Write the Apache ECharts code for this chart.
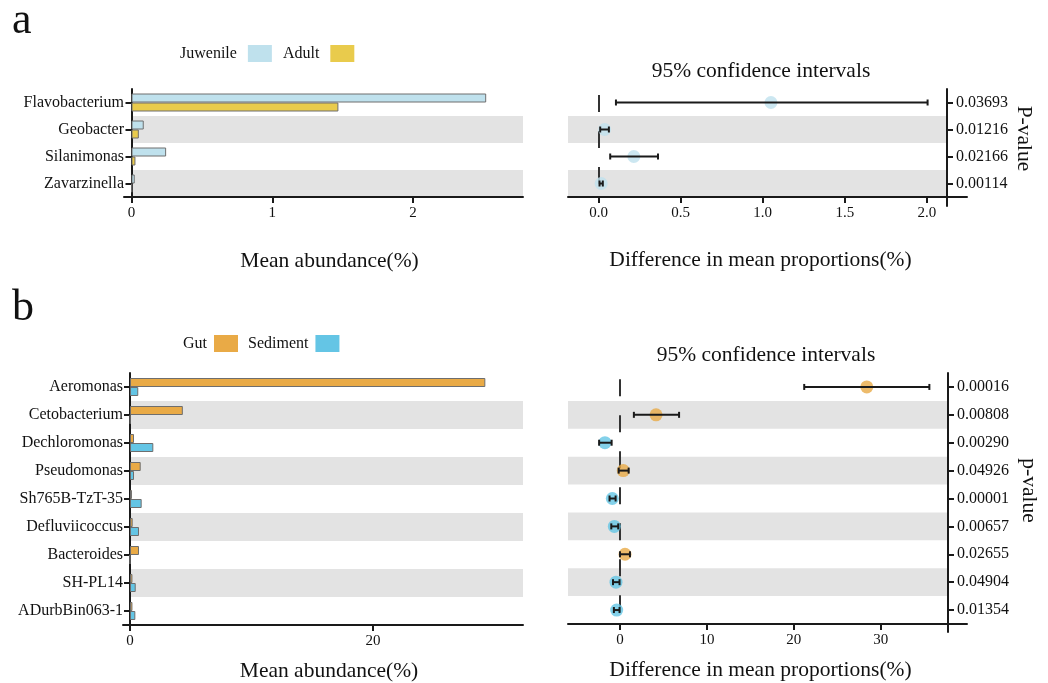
<!DOCTYPE html>
<html><head><meta charset="utf-8">
<script src="https://cdn.jsdelivr.net/npm/echarts@6/dist/echarts.min.js"></script>
<style>html,body{margin:0;padding:0;background:#fff}#c{width:1048px;height:683px}</style>
</head><body><div id="c"></div>
<script>
// ---------- Panel a ----------
const genusA = ['Flavobacterium', 'Geobacter', 'Silanimonas', 'Zavarzinella'];
const juwenile = [2.52, 0.087, 0.246, 0.023];
const adult = [1.47, 0.052, 0.028, 0.004];
const diffA = [1.05, 0.037, 0.215, 0.016];
const ciLowA = [0.106, 0.010, 0.071, 0.006];
const ciHighA = [2.004, 0.063, 0.362, 0.026];
const pValuesA = ['0.03693', '0.01216', '0.02166', '0.00114'];
const ticksAbundA = [0, 1, 2];
const ticksDiffA = [0, 0.5, 1, 1.5, 2];

// ---------- Panel b ----------
const genusB = ['Aeromonas', 'Cetobacterium', 'Dechloromonas', 'Pseudomonas', 'Sh765B-TzT-35',
  'Defluviicoccus', 'Bacteroides', 'SH-PL14', 'ADurbBin063-1'];
const gut = [29.25, 4.35, 0.33, 0.88, 0.16, 0.22, 0.74, 0.20, 0.20];
const sediment = [0.68, 0.03, 1.92, 0.33, 0.96, 0.74, 0, 0.47, 0.44];
const diffB = [28.4, 4.15, -1.73, 0.38, -0.88, -0.65, 0.58, -0.46, -0.38];
const ciLowB = [21.2, 1.6, -2.4, -0.15, -1.2, -1.0, 0.0, -0.8, -0.7];
const ciHighB = [35.6, 6.8, -0.96, 1.0, -0.5, -0.2, 1.15, -0.05, -0.05];
const pValuesB = ['0.00016', '0.00808', '0.00290', '0.04926', '0.00001', '0.00657', '0.02655', '0.04904', '0.01354'];
const ticksAbundB = [0, 20];
const ticksDiffB = [0, 10, 20, 30];

const FONT = 'Liberation Serif';
const INK = '#111';
const AX = '#1a1a1a';
const BAND = '#e3e3e3';
const C = { juv: '#bfe1ed', adult: '#e9cb4c', gut: '#e9aa46', sed: '#64c5e5' };

const chart = echarts.init(document.getElementById('c'));

function axisLineStyle() { return { show: true, lineStyle: { color: AX, width: 2 } }; }

function xAbund(grid, min, max, ticks) {
  return {
    type: 'value', gridIndex: grid, min, max, position: 'bottom',
    axisLine: axisLineStyle(),
    axisTick: { show: true, length: 6, lineStyle: { color: AX, width: 2 }, customValues: ticks },
    axisLabel: { customValues: ticks, fontFamily: FONT, fontSize: 15, color: INK, margin: 9 },
    splitLine: { show: false },
    name: 'Mean abundance(%)', nameLocation: 'middle', nameGap: grid === 0 ? 53 : 35,
    nameTextStyle: { fontFamily: FONT, fontSize: 21.5, color: INK, padding: [0, 0, 0, 12] }
  };
}
function xDiff(grid, min, max, ticks, fmt) {
  return {
    type: 'value', gridIndex: grid, min, max, position: 'bottom', offset: grid === 1 ? -9 : -8,
    axisLine: Object.assign(axisLineStyle(), { onZero: false }),
    axisTick: { show: true, length: 6, lineStyle: { color: AX, width: 2 }, customValues: ticks },
    axisLabel: { customValues: ticks, fontFamily: FONT, fontSize: 15, color: INK, margin: 9, formatter: fmt },
    splitLine: { show: false },
    name: 'Difference in mean proportions(%)', nameLocation: 'middle', nameGap: grid === 1 ? 52 : 35,
    nameTextStyle: { fontFamily: FONT, fontSize: 21.5, color: INK, padding: [0, 14, 0, 0] }
  };
}
function yCat(grid, cats) {
  return {
    type: 'category', gridIndex: grid, data: cats, inverse: true,
    axisLine: Object.assign(axisLineStyle(), { onZero: true }),
    axisTick: { show: true, alignWithLabel: true, length: 6, lineStyle: { color: AX, width: 2 } },
    axisLabel: { fontFamily: FONT, fontSize: 16, color: INK, margin: 0 },
    splitLine: { show: false }, splitArea: { show: false }
  };
}
function yP(grid, max, offset, pv, name, gap, shiftUp) {
  const idx = pv.map((_, i) => i);
  return {
    type: 'value', gridIndex: grid, inverse: true, min: -0.5, max, position: 'right', offset,
    axisLine: Object.assign(axisLineStyle(), { onZero: false }),
    axisTick: { show: true, length: 6, lineStyle: { color: AX, width: 2 }, customValues: idx },
    axisLabel: { customValues: idx, fontFamily: FONT, fontSize: 16, color: INK, margin: 9,
      formatter: v => pv[Math.round(v)] },
    splitLine: { show: false },
    name, nameLocation: 'middle', nameRotate: -90, nameGap: gap,
    nameTextStyle: { fontFamily: FONT, fontSize: 21.5, color: INK, padding: [0, shiftUp, 0, 0] }
  };
}

function bandSeries(xi, yi, n, rightInset, fromZero, zeroTop, zeroBottom) {
  const rows = [];
  for (let i = 1; i < n; i += 2) rows.push([0, i]);
  const s = {
    type: 'custom', xAxisIndex: xi, yAxisIndex: yi, silent: true, z: 0, data: rows,
    renderItem(params, api) {
      const cs = params.coordSys;
      const c = api.coord([0, api.value(1)]);
      const h = api.size([0, 1])[1];
      const x0 = fromZero ? c[0] : cs.x;
      const x1 = cs.x + cs.width - rightInset;
      return { type: 'rect', shape: { x: x0, y: c[1] - h / 2, width: x1 - x0, height: h }, style: { fill: BAND } };
    }
  };
  if (zeroTop !== undefined) {
    s.markLine = {
      silent: true, symbol: 'none', z: 1, label: { show: false },
      lineStyle: { type: [17, 19], color: '#333', width: 2 },
      data: [[{ coord: [0, zeroTop] }, { coord: [0, zeroBottom] }]]
    };
  }
  return s;
}

function barSeries(name, xi, yi, vals, color) {
  return {
    type: 'bar', name, xAxisIndex: xi, yAxisIndex: yi, data: vals, barWidth: 9, barGap: '0%', z: 2,
    itemStyle: { color, borderColor: '#6e6e6e', borderWidth: 1 }
  };
}

function errSeries(xi, yi, lo, hi) {
  return {
    type: 'custom', xAxisIndex: xi, yAxisIndex: yi, z: 5, silent: true,
    data: lo.map((l, i) => [l, hi[i], i]), encode: { x: [0, 1], y: 2 },
    renderItem(params, api) {
      const a = api.coord([api.value(0), api.value(2)]);
      const b = api.coord([api.value(1), api.value(2)]);
      const cap = 3;
      const st = { stroke: '#1a1a1a', lineWidth: 2 };
      return { type: 'group', children: [
        { type: 'line', shape: { x1: a[0], y1: a[1], x2: b[0], y2: b[1] }, style: st },
        { type: 'line', shape: { x1: a[0], y1: a[1] - cap, x2: a[0], y2: a[1] + cap }, style: st },
        { type: 'line', shape: { x1: b[0], y1: b[1] - cap, x2: b[0], y2: b[1] + cap }, style: st }
      ] };
    }
  };
}

function pointSeries(xi, yi, diffs, posColor, negColor) {
  return {
    type: 'scatter', xAxisIndex: xi, yAxisIndex: yi, z: 3, symbolSize: 13, silent: true,
    data: diffs.map((v, i) => ({ value: [v, i], itemStyle: { color: v >= 0 ? posColor : negColor } }))
  };
}

const legendCommon = {
  orient: 'horizontal', align: 'right', itemWidth: 24, itemHeight: 17, icon: 'rect',
  itemStyle: { borderWidth: 0 }
};

const option = {
  animation: false,
  backgroundColor: '#fff',
  grid: [
    { left: 124, top: 89, width: 399, height: 108 },
    { left: 568, top: 89, width: 399, height: 117 },
    { left: 123, top: 373, width: 400, height: 252 },
    { left: 568, top: 373, width: 399, height: 259 }
  ],
  legend: [
    Object.assign({}, legendCommon, { data: ['Juwenile', 'Adult'], left: 175, top: 40, itemGap: 11,
      textStyle: { fontFamily: FONT, fontSize: 16, color: INK, padding: [0, 6, 0, 0] } }),
    Object.assign({}, legendCommon, { data: ['Gut', 'Sediment'], left: 178, top: 330, itemGap: 10,
      textStyle: { fontFamily: FONT, fontSize: 16, color: INK, padding: [0, 2, 0, 0] } })
  ],
  xAxis: [
    xAbund(0, -0.0533, 2.7815, ticksAbundA),
    xDiff(1, -0.186, 2.244, ticksDiffA, v => v.toFixed(1)),
    xAbund(2, -0.576, 32.35, ticksAbundB),
    xDiff(3, -5.98, 39.93, ticksDiffB, v => String(v))
  ],
  yAxis: [
    yCat(0, genusA),
    yP(1, 3.833, -20, pValuesA, 'P-value', 66, 18),
    yCat(2, genusB),
    yP(3, 8.787, -19, pValuesB, 'p-value', 70, 24)
  ],
  graphic: [
    { type: 'text', x: 12, y: 21, silent: true,
      style: { text: 'a', font: '44px "Liberation Serif"', fill: INK, verticalAlign: 'middle' } },
    { type: 'text', x: 12, y: 308, silent: true,
      style: { text: 'b', font: '44px "Liberation Serif"', fill: INK, verticalAlign: 'middle' } },
    { type: 'text', x: 761, y: 71, silent: true,
      style: { text: '95% confidence intervals', font: '21.5px "Liberation Serif"', fill: INK, align: 'center', verticalAlign: 'middle' } },
    { type: 'text', x: 766, y: 355, silent: true,
      style: { text: '95% confidence intervals', font: '21.5px "Liberation Serif"', fill: INK, align: 'center', verticalAlign: 'middle' } }
  ],
  series: [
    bandSeries(0, 0, genusA.length, 0, true),
    barSeries('Juwenile', 0, 0, juwenile, C.juv),
    barSeries('Adult', 0, 0, adult, C.adult),
    bandSeries(1, 1, genusA.length, 20, false, -0.28, 3.25),
    pointSeries(1, 1, diffA, C.juv, C.adult),
    errSeries(1, 1, ciLowA, ciHighA),
    bandSeries(2, 2, genusB.length, 0, true),
    barSeries('Gut', 2, 2, gut, C.gut),
    barSeries('Sediment', 2, 2, sediment, C.sed),
    bandSeries(3, 3, genusB.length, 19, false, -0.28, 8.25),
    pointSeries(3, 3, diffB, C.gut, C.sed),
    errSeries(3, 3, ciLowB, ciHighB)
  ]
};
chart.setOption(option);
</script></body></html>
